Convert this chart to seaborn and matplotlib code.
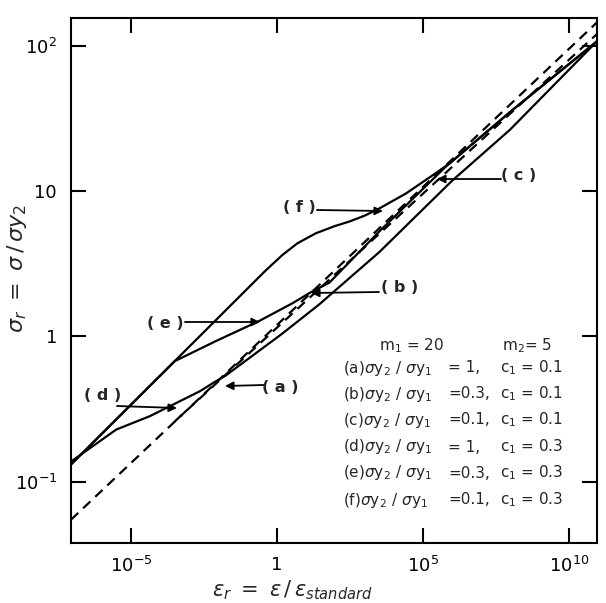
import numpy as np
import pandas as pd
import matplotlib
matplotlib.use("Agg")
import matplotlib.pyplot as plt
import seaborn as sns

# ---- data (log10 of strain-rate ratio, log10 of stress ratio) ----
dashA_logx = [-7.05, 10.97]
dashA_logy = [-1.26, 2.16]
dashB_logx = [-3.5, 10.97]
dashB_logy = [-0.585, 2.08]

f_logx = [-7.05, -1.0, -0.4, 0.19, 0.7, 1.34, 2.0, 2.48, 3.0, 3.51, 4.43, 5.46, 5.92, 8.09, 9.93, 10.97]
f_logy = [-0.88, 0.33, 0.45, 0.56, 0.64, 0.71, 0.76, 0.79, 0.83, 0.88, 0.984, 1.125, 1.19, 1.56, 1.86, 2.03]

e_logx = [-7.05, -3.5, -2.07, -0.6, 0.55, 1.13, 1.8, 3.5, 5.8, 8.09, 9.93, 10.97]
e_logy = [-0.88, -0.17, -0.03, 0.107, 0.23, 0.30, 0.37, 0.72, 1.17, 1.56, 1.86, 2.03]

d_logx = [-7.05, -5.5, -4.35, -3.54, -2.63, -2.17, -1.76, 0.19, 1.45, 3.51, 6.0, 7.98, 10.97]
d_logy = [-0.86, -0.64, -0.548, -0.467, -0.376, -0.318, -0.27, 0.02, 0.22, 0.58, 1.07, 1.42, 2.03]

xtick_vals = [1e-5, 1, 1e5, 1e10]
xtick_labels = [r"$10^{-5}$", "1", r"$10^{5}$", r"$10^{10}$"]
ytick_vals = [0.1, 1, 10, 100]
ytick_labels = [r"$10^{-1}$", "1", "10", r"$10^{2}$"]

legend_rows = ["(a)", "(b)", "(c)", "(d)", "(e)", "(f)"]
legend_ratio = ["= 1,", "=0.3,", "=0.1,", "= 1,", "=0.3,", "=0.1,"]
legend_c1 = ["= 0.1", "= 0.1", "= 0.1", "= 0.3", "= 0.3", "= 0.3"]

# ---- figure ----
sns.set_theme(style="white")
plt.rcParams["font.family"] = ["DejaVu Sans"]
plt.rcParams["mathtext.fontset"] = "dejavusans"

W, H = 606, 603
fig = plt.figure(figsize=(W / 100, H / 100), dpi=100)
ax = fig.add_axes([71 / W, 1 - 543 / H, (597 - 71) / W, (543 - 18) / H])

def draw(lx, ly, dashed=False):
    df = pd.DataFrame({"x": 10 ** np.array(lx), "y": 10 ** np.array(ly)})
    sns.lineplot(data=df, x="x", y="y", ax=ax, sort=False, estimator=None,
                 color="black", lw=1.6,
                 linestyle=(0, (4.5, 3)) if dashed else "-")

draw(dashA_logx, dashA_logy, dashed=True)
draw(dashB_logx, dashB_logy, dashed=True)
draw(f_logx, f_logy)
draw(e_logx, e_logy)
draw(d_logx, d_logy)

ax.set_xscale("log")
ax.set_yscale("log")
ax.set_xlim(10 ** -7.05, 10 ** 10.97)
ax.set_ylim(10 ** -1.42, 10 ** 2.19)
ax.set_xticks(xtick_vals)
ax.set_xticklabels(xtick_labels)
ax.set_yticks(ytick_vals)
ax.set_yticklabels(ytick_labels)
ax.minorticks_off()
ax.tick_params(which="major", direction="in", length=11, width=1.5,
               top=True, right=True, bottom=True, left=True,
               labelsize=13, colors="black")
ax.tick_params(axis="x", pad=9)
ax.tick_params(axis="y", pad=10)
for s in ax.spines.values():
    s.set_linewidth(1.5)
    s.set_color("black")
ax.set_xlabel("")
ax.set_ylabel("")

# axis titles
fig.text(17 / W, 1 - 268 / H, r"$\sigma_r\ =\ \sigma\,/\,\sigma y_2$", rotation=90,
         ha="center", va="center", fontsize=16)
fig.text(292 / W, 1 - 602 / H, r"$\epsilon_r\ =\ \epsilon\,/\,\epsilon_{standard}$",
         ha="center", va="bottom", fontsize=15)

# curve labels with arrows (pixel positions)
def px(x, y):
    return (x / W, 1 - y / H)

annots = [
    ("( f )", (299, 208), (317, 210), (383, 211)),
    ("( e )", (165, 323), (185, 322), (260, 322)),
    ("( d )", (103, 396), (117, 406), (177, 408)),
    ("( a )", (280, 387), (264, 385), (225, 386)),
    ("( b )", (400, 288), (379, 292), (311, 293)),
    ("( c )", (519, 176), (501, 179), (437, 179)),
]
for lab, tpos, start, tip in annots:
    fig.text(*px(*tpos), lab, ha="center", va="center", fontsize=11.5, fontweight="semibold")
    ax.annotate("", xy=px(*tip), xycoords="figure fraction",
                xytext=px(*start), textcoords="figure fraction",
                arrowprops=dict(arrowstyle="-|>", color="black", lw=1.3,
                                mutation_scale=12, shrinkA=0, shrinkB=0))

# parameter block
fig.text(*px(412, 346), r"$\mathregular{m_1}$ = 20", ha="center", va="center", fontsize=11)
fig.text(*px(527, 346), r"$\mathregular{m_2}$= 5", ha="center", va="center", fontsize=11)
row_y = [368, 394, 420, 447, 473, 500]
for i, yy in enumerate(row_y):
    fig.text(*px(343, yy), legend_rows[i] + r"$\sigma \mathregular{y_2}\ /\ \sigma \mathregular{y_1}$",
             ha="left", va="center", fontsize=11)
    fig.text(*px(448, yy), legend_ratio[i], ha="left", va="center", fontsize=11)
    fig.text(*px(500, yy), r"$\mathregular{c_1}$ " + legend_c1[i], ha="left", va="center", fontsize=11)

fig.savefig("out.png", dpi=100)
